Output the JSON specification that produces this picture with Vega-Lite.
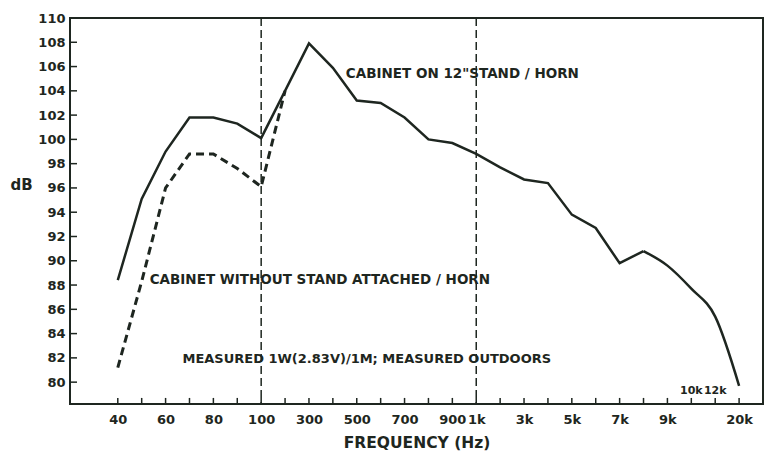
{
  "$schema": "https://vega.github.io/schema/vega-lite/v6.json",
  "width": 693,
  "height": 386,
  "autosize": {"type": "none"},
  "padding": {"left": 70, "top": 18, "right": 1, "bottom": 48},
  "background": "white",
  "config": {
    "font": "DejaVu Sans",
    "view": {"stroke": "#1e2620", "strokeWidth": 2},
    "axis": {
      "grid": false,
      "domain": false,
      "ticks": false,
      "tickSize": 0,
      "labelOverlap": false,
      "labelSeparation": 0,
      "labelColor": "#1e2620",
      "labelFont": "DejaVu Sans",
      "labelFontWeight": "bold",
      "labelFontSize": 13,
      "titleColor": "#1e2620",
      "titleFont": "DejaVu Sans",
      "titleFontWeight": "bold"
    },
    "axisY": {"labelOverlap": false, "tickCount": 16},
    "text": {"font": "DejaVu Sans", "fontWeight": "bold", "color": "#1e2620"}
  },
  "datasets": {
    "curves": [
      {"hz": 40, "db": 88.4, "series": "stand"},
      {"hz": 50, "db": 95.1, "series": "stand"},
      {"hz": 60, "db": 99.0, "series": "stand"},
      {"hz": 70, "db": 101.8, "series": "stand"},
      {"hz": 80, "db": 101.8, "series": "stand"},
      {"hz": 90, "db": 101.3, "series": "stand"},
      {"hz": 100, "db": 100.1, "series": "stand"},
      {"hz": 200, "db": 104.0, "series": "stand"},
      {"hz": 300, "db": 107.9, "series": "stand"},
      {"hz": 400, "db": 105.9, "series": "stand"},
      {"hz": 500, "db": 103.2, "series": "stand"},
      {"hz": 600, "db": 103.0, "series": "stand"},
      {"hz": 700, "db": 101.8, "series": "stand"},
      {"hz": 800, "db": 100.0, "series": "stand"},
      {"hz": 900, "db": 99.7, "series": "stand"},
      {"hz": 1000, "db": 98.8, "series": "stand"},
      {"hz": 2000, "db": 97.7, "series": "stand"},
      {"hz": 3000, "db": 96.7, "series": "stand"},
      {"hz": 4000, "db": 96.4, "series": "stand"},
      {"hz": 5000, "db": 93.8, "series": "stand"},
      {"hz": 6000, "db": 92.7, "series": "stand"},
      {"hz": 7000, "db": 89.8, "series": "stand"},
      {"hz": 8000, "db": 90.8, "series": "stand"},
      {"hz": 9000, "db": 89.6, "series": "stand"},
      {"hz": 10000, "db": 87.7, "series": "stand"},
      {"hz": 12000, "db": 85.4, "series": "stand"},
      {"hz": 20000, "db": 79.7, "series": "stand"},
      {"hz": 40, "db": 81.2, "series": "nostand"},
      {"hz": 50, "db": 88.3, "series": "nostand"},
      {"hz": 60, "db": 96.0, "series": "nostand"},
      {"hz": 70, "db": 98.8, "series": "nostand"},
      {"hz": 80, "db": 98.8, "series": "nostand"},
      {"hz": 90, "db": 97.6, "series": "nostand"},
      {"hz": 100, "db": 96.1, "series": "nostand"},
      {"hz": 200, "db": 104.0, "series": "nostand"}
    ],
    "marks": [{"hz": 100}, {"hz": 1000}],
    "xticks": [
      {"hz": 40}, {"hz": 50}, {"hz": 60}, {"hz": 70}, {"hz": 80}, {"hz": 90}, {"hz": 100},
      {"hz": 200}, {"hz": 300}, {"hz": 400}, {"hz": 500}, {"hz": 600}, {"hz": 700}, {"hz": 800}, {"hz": 900},
      {"hz": 1000}, {"hz": 2000}, {"hz": 3000}, {"hz": 4000}, {"hz": 5000}, {"hz": 6000}, {"hz": 7000},
      {"hz": 8000}, {"hz": 9000}, {"hz": 10000}, {"hz": 12000}, {"hz": 20000}
    ],
    "yticks": [
      {"db": 80}, {"db": 82}, {"db": 84}, {"db": 86}, {"db": 88}, {"db": 90}, {"db": 92}, {"db": 94},
      {"db": 96}, {"db": 98}, {"db": 100}, {"db": 102}, {"db": 104}, {"db": 106}, {"db": 108}
    ],
    "notes": [
      {"id": "stand", "hz": 400, "db": 105.4, "label": "CABINET ON 12\"STAND / HORN"},
      {"id": "nostand", "hz": 50, "db": 88.4, "label": "CABINET WITHOUT STAND ATTACHED / HORN"},
      {"id": "measured", "hz": 70, "db": 81.9, "label": "MEASURED 1W(2.83V)/1M; MEASURED OUTDOORS"},
      {"id": "hf", "hz": 10000, "db": 79.25, "label": "10k"},
      {"id": "hf", "hz": 12000, "db": 79.25, "label": "12k"}
    ]
  },
  "layer": [
    {
      "data": {"name": "curves"},
      "transform": [{"filter": "datum.series == 'stand' && datum.hz <= 8000"}],
      "mark": {"type": "line", "color": "#1e2620", "strokeWidth": 2.5, "strokeJoin": "miter"},
      "encoding": {
        "x": {
          "field": "hz", "type": "ordinal",
          "scale": {"type": "point", "padding": 0, "domain": [20, 30, 40, 50, 60, 70, 80, 90, 100, 200, 300, 400, 500, 600, 700, 800, 900, 1000, 2000, 3000, 4000, 5000, 6000, 7000, 8000, 9000, 10000, 12000, 20000, 30000]},
          "axis": {
            "title": "FREQUENCY (Hz)",
            "titleFontSize": 15.5,
            "titlePadding": 9,
            "values": [40, 60, 80, 100, 300, 500, 700, 900, 1000, 3000, 5000, 7000, 9000, 20000],
            "labelExpr": "datum.value >= 1000 ? (datum.value/1000) + 'k' : datum.value + ''",
            "labelOverlap": false,
            "labelAngle": 0,
            "labelPadding": 9
          }
        },
        "y": {
          "field": "db", "type": "quantitative",
          "scale": {"domain": [78.2, 110], "nice": false, "zero": false},
          "axis": {
            "title": "dB",
            "titleFontSize": 15,
            "titleAngle": 0,
            "titleAlign": "center",
            "titleBaseline": "middle",
            "titleX": -49,
            "titleY": 166,
            "values": [80, 82, 84, 86, 88, 90, 92, 94, 96, 98, 100, 102, 104, 106, 108, 110],
            "labelOverlap": false,
            "labelPadding": 5
          }
        }
      }
    },
    {
      "data": {"name": "curves"},
      "transform": [{"filter": "datum.series == 'stand' && datum.hz >= 8000"}],
      "mark": {"type": "line", "color": "#1e2620", "strokeWidth": 2.5, "interpolate": "monotone"},
      "encoding": {
        "x": {"field": "hz", "type": "ordinal"},
        "y": {"field": "db", "type": "quantitative"}
      }
    },
    {
      "data": {"name": "curves"},
      "transform": [{"filter": "datum.series == 'nostand'"}],
      "mark": {"type": "line", "color": "#1e2620", "strokeWidth": 3, "strokeDash": [8, 5]},
      "encoding": {
        "x": {"field": "hz", "type": "ordinal"},
        "y": {"field": "db", "type": "quantitative"}
      }
    },
    {
      "data": {"name": "marks"},
      "mark": {"type": "rule", "color": "#1e2620", "strokeWidth": 1.5, "strokeDash": [8, 4]},
      "encoding": {
        "x": {"field": "hz", "type": "ordinal"}
      }
    },
    {
      "data": {"name": "xticks"},
      "mark": {"type": "rule", "color": "#1e2620", "strokeWidth": 1.5},
      "encoding": {
        "x": {"field": "hz", "type": "ordinal"},
        "y": {"datum": 78.2, "type": "quantitative"},
        "y2": {"datum": 78.7}
      }
    },
    {
      "data": {"name": "yticks"},
      "mark": {"type": "rule", "color": "#1e2620", "strokeWidth": 1.5, "x2Offset": 7},
      "encoding": {
        "y": {"field": "db", "type": "quantitative"},
        "x": {"datum": 20, "type": "ordinal"},
        "x2": {"datum": 20}
      }
    },
    {
      "data": {"name": "notes"},
      "transform": [{"filter": "datum.id == 'stand'"}],
      "mark": {"type": "text", "align": "left", "baseline": "middle", "fontSize": 13.5, "dx": 13},
      "encoding": {
        "x": {"field": "hz", "type": "ordinal"},
        "y": {"field": "db", "type": "quantitative"},
        "text": {"field": "label"}
      }
    },
    {
      "data": {"name": "notes"},
      "transform": [{"filter": "datum.id == 'nostand'"}],
      "mark": {"type": "text", "align": "left", "baseline": "middle", "fontSize": 13.5, "dx": 8},
      "encoding": {
        "x": {"field": "hz", "type": "ordinal"},
        "y": {"field": "db", "type": "quantitative"},
        "text": {"field": "label"}
      }
    },
    {
      "data": {"name": "notes"},
      "transform": [{"filter": "datum.id == 'measured'"}],
      "mark": {"type": "text", "align": "left", "baseline": "middle", "fontSize": 13, "dx": -7},
      "encoding": {
        "x": {"field": "hz", "type": "ordinal"},
        "y": {"field": "db", "type": "quantitative"},
        "text": {"field": "label"}
      }
    },
    {
      "data": {"name": "notes"},
      "transform": [{"filter": "datum.id == 'hf'"}],
      "mark": {"type": "text", "align": "center", "baseline": "middle", "fontSize": 11},
      "encoding": {
        "x": {"field": "hz", "type": "ordinal"},
        "y": {"field": "db", "type": "quantitative"},
        "text": {"field": "label"}
      }
    }
  ]
}
